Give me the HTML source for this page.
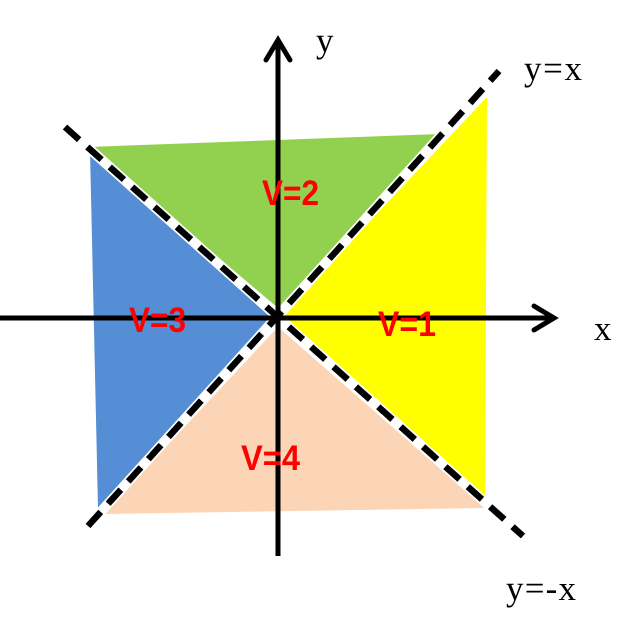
<!DOCTYPE html>
<html><head><meta charset="utf-8"><style>html,body{margin:0;padding:0;background:#fff}svg{display:block}</style></head>
<body>
<svg width="638" height="631" viewBox="0 0 638 631" xmlns="http://www.w3.org/2000/svg">
<polygon points="487,97 485,500 282,314" fill="#ffff00"/>
<polygon points="88,147 440,134 278,308" fill="#92d050"/>
<polygon points="90,151 98,508 272,318" fill="#558ed5"/>
<polygon points="103,514 485,508 278,327" fill="#fbd5b5"/>
<line x1="88" y1="526" x2="499" y2="71" stroke="#fff" stroke-width="10"/>
<line x1="65" y1="127" x2="523" y2="536" stroke="#fff" stroke-width="10"/>
<line x1="88" y1="526" x2="499" y2="71" stroke="#000" stroke-width="6.5" stroke-dasharray="19,11"/>
<line x1="65" y1="127" x2="523" y2="536" stroke="#000" stroke-width="6.5" stroke-dasharray="19,11"/>
<line x1="278" y1="556" x2="278" y2="40" stroke="#000" stroke-width="5"/>
<polyline points="266,60 278,40 290,60" fill="none" stroke="#000" stroke-width="5" stroke-linecap="round"/>
<line x1="0" y1="318" x2="554" y2="318" stroke="#000" stroke-width="5"/>
<polyline points="534,306 554,318 534,330" fill="none" stroke="#000" stroke-width="5" stroke-linecap="round"/>
<g font-family="Liberation Serif, serif" font-size="35" fill="#000">
<text x="316" y="52">y</text>
<text x="524" y="80" textLength="58">y=x</text>
<text x="594" y="340">x</text>
<text x="506" y="600" textLength="70">y=-x</text>
</g>
<g font-family="Liberation Sans, sans-serif" font-weight="bold" font-size="35" fill="#ff0000">
<text x="262" y="205" textLength="57" lengthAdjust="spacingAndGlyphs">V=2</text>
<text x="129" y="332" textLength="57" lengthAdjust="spacingAndGlyphs">V=3</text>
<text x="378" y="336" textLength="58" lengthAdjust="spacingAndGlyphs">V=1</text>
<text x="241" y="470" textLength="59" lengthAdjust="spacingAndGlyphs">V=4</text>
</g>
</svg>
</body></html>
